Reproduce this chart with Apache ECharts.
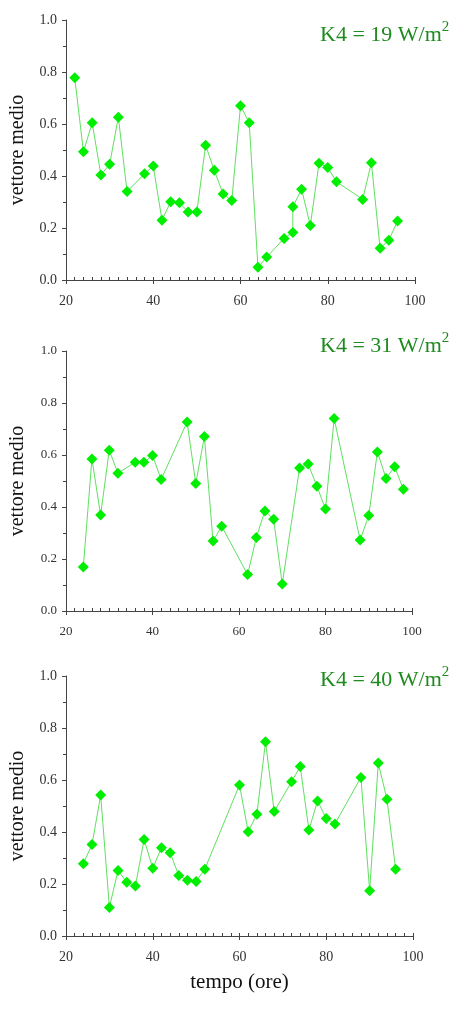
<!DOCTYPE html>
<html>
<head>
<meta charset="utf-8">
<script src="https://cdn.jsdelivr.net/npm/echarts@6/dist/echarts.min.js"></script>
<style>
html,body{margin:0;padding:0;background:#fff;}
#chart{width:455px;height:1009px;}
</style>
</head>
<body>
<div id="chart"></div>
<script>
// ---- data ----
const xTickLabels = ['20', '40', '60', '80', '100'];
const yTickLabels = ['0.0', '0.2', '0.4', '0.6', '0.8', '1.0'];
const panelLabels = ['19', '31', '40'];

const t1 = [22, 24, 26, 28, 30, 32, 34, 38, 40, 42, 44, 46, 48, 50, 52, 54, 56, 58, 60, 62, 64, 66, 70, 72, 72, 74, 76, 78, 80, 82, 88, 90, 92, 94, 96];
const v1 = [0.778, 0.493, 0.605, 0.404, 0.445, 0.626, 0.340, 0.409, 0.438, 0.230, 0.301, 0.297, 0.262, 0.262, 0.518, 0.422, 0.331, 0.306, 0.670, 0.605, 0.049, 0.088, 0.160, 0.183, 0.282, 0.349, 0.210, 0.449, 0.433, 0.378, 0.310, 0.451, 0.122, 0.153, 0.227];

const t2 = [24, 26, 28, 30, 32, 36, 38, 40, 42, 48, 50, 52, 54, 56, 62, 64, 66, 68, 70, 74, 76, 78, 80, 82, 88, 90, 92, 94, 96, 98];
const v2 = [0.169, 0.585, 0.369, 0.618, 0.530, 0.572, 0.572, 0.598, 0.506, 0.727, 0.490, 0.671, 0.269, 0.326, 0.140, 0.283, 0.385, 0.353, 0.104, 0.550, 0.565, 0.480, 0.392, 0.740, 0.273, 0.367, 0.612, 0.510, 0.555, 0.468];

const t3 = [24, 26, 28, 30, 32, 34, 36, 38, 40, 42, 44, 46, 48, 50, 52, 60, 62, 64, 66, 68, 72, 74, 76, 78, 80, 82, 88, 90, 92, 94, 96];
const v3 = [0.278, 0.352, 0.542, 0.110, 0.252, 0.207, 0.192, 0.371, 0.261, 0.339, 0.320, 0.233, 0.214, 0.210, 0.257, 0.581, 0.401, 0.468, 0.747, 0.479, 0.593, 0.652, 0.408, 0.519, 0.452, 0.431, 0.610, 0.174, 0.665, 0.526, 0.257];

// ---- styles ----
const FONT = "'Liberation Serif', 'Times New Roman', serif";
const AXIS_COLOR = '#444';
const TEXT_COLOR = '#333';
const MARK_COLOR = '#00ee00';
const LINE_COLOR = '#5fe05f';
const LABEL_COLOR = '#1f8a1f';

const grids = [
  { left: 64, right: 40, top: 20, height: 260 },
  { left: 60, right: 43, top: 351, height: 260 },
  { left: 63, right: 42, top: 676, height: 260 }
];
const labelFont = [14, 13, 14];
const labelTops = [20, 331, 665];

function pairs(t, v) { return t.map((x, i) => [x, v[i]]); }

const xAxes = [], yAxes = [], series = [], titles = [];
const datasets = [[t1, v1], [t2, v2], [t3, v3]];

grids.forEach((g, i) => {
  xAxes.push({
    gridIndex: i, type: 'value', min: 20, max: 100, interval: 20,
    axisLine: { show: true, lineStyle: { color: AXIS_COLOR, width: 1 } },
    axisTick: { show: true, inside: false, length: 4, lineStyle: { color: AXIS_COLOR } },
    axisLabel: { show: true, margin: 14, color: TEXT_COLOR, fontFamily: FONT, fontSize: labelFont[i],
      formatter: v => xTickLabels[Math.round((v - 20) / 20)] },
    splitLine: { show: false },
    name: i === 2 ? 'tempo (ore)' : '',
    nameLocation: 'middle', nameGap: 36,
    nameTextStyle: { fontFamily: FONT, fontSize: 21, color: '#111' }
  });
  xAxes.push({
    gridIndex: i, type: 'value', min: 20, max: 100, interval: 2, position: 'bottom',
    axisLine: { show: false },
    axisTick: { show: true, inside: true, length: 3, lineStyle: { color: AXIS_COLOR } },
    axisLabel: { show: false },
    splitLine: { show: false }
  });
  yAxes.push({
    gridIndex: i, type: 'value', min: 0, max: 1, interval: 0.2,
    axisLine: { show: true, lineStyle: { color: AXIS_COLOR, width: 1 } },
    axisTick: { show: true, inside: false, length: 4, lineStyle: { color: AXIS_COLOR } },
    minorTick: { show: true, splitNumber: 2, length: 3, lineStyle: { color: AXIS_COLOR } },
    axisLabel: { margin: 9, color: TEXT_COLOR, fontFamily: FONT, fontSize: labelFont[i],
      formatter: v => yTickLabels[Math.round(v / 0.2)] },
    splitLine: { show: false },
    name: 'vettore medio', nameLocation: 'middle', nameGap: 38,
    nameTextStyle: { fontFamily: FONT, fontSize: 20, color: '#111' }
  });
  series.push({
    type: 'line', xAxisIndex: i * 2, yAxisIndex: i,
    data: pairs(datasets[i][0], datasets[i][1]),
    symbol: 'diamond', symbolSize: 11, showSymbol: true,
    lineStyle: { color: LINE_COLOR, width: 1 },
    itemStyle: { color: MARK_COLOR },
    animation: false
  });
  titles.push({
    left: 320, top: labelTops[i], padding: 0,
    text: '{m|K4 = ' + panelLabels[i] + ' W/m}{s|2}',
    textStyle: {
      fontWeight: 'normal',
      rich: {
        m: { fontFamily: FONT, fontSize: 22, fontWeight: 'normal', color: LABEL_COLOR, lineHeight: 26, verticalAlign: 'bottom' },
        s: { fontFamily: FONT, fontSize: 15, fontWeight: 'normal', color: LABEL_COLOR, lineHeight: 26, verticalAlign: 'top' }
      }
    }
  });
});

const chart = echarts.init(document.getElementById('chart'), null, { renderer: 'canvas' });
chart.setOption({
  animation: false,
  backgroundColor: '#fff',
  title: titles,
  grid: grids,
  xAxis: xAxes,
  yAxis: yAxes,
  series: series
});
</script>
</body>
</html>
